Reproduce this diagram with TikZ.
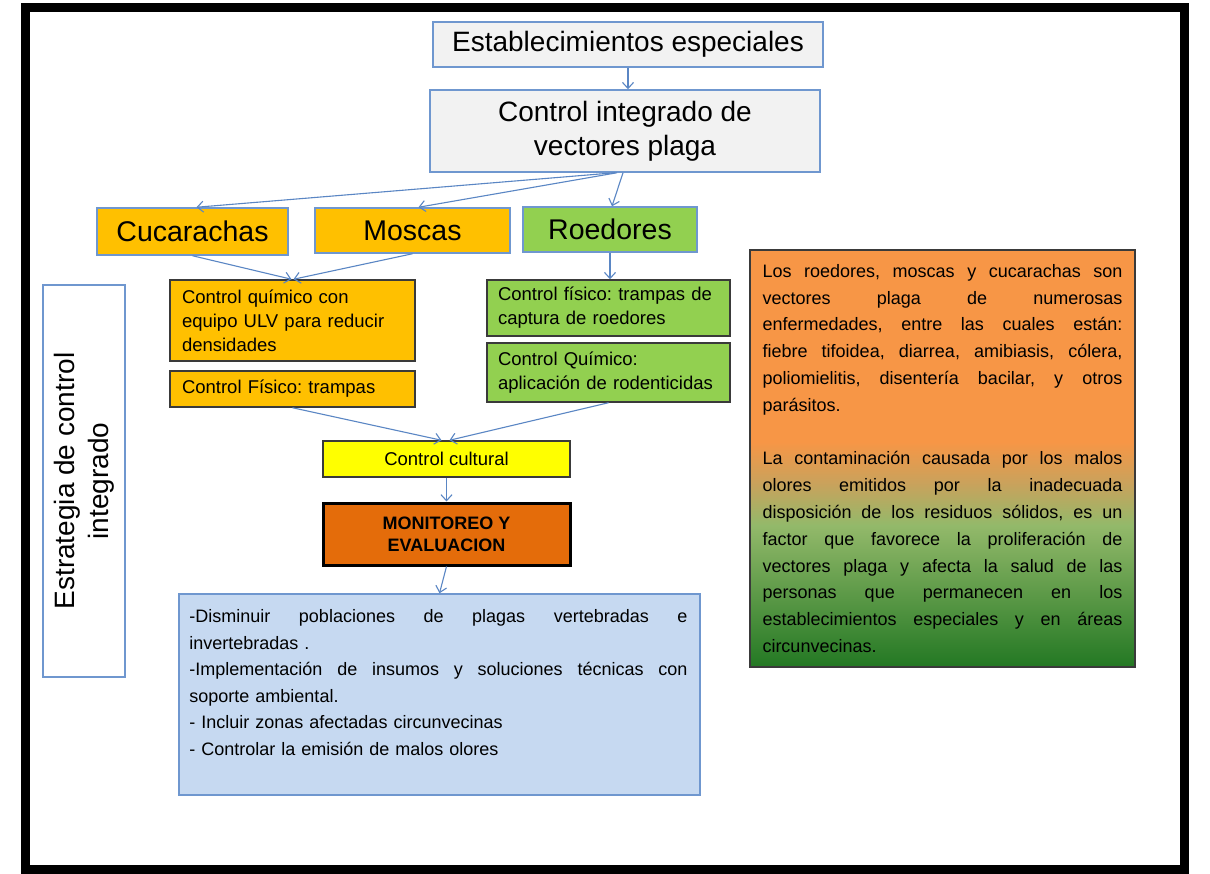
\documentclass[tikz,border=0pt]{standalone}
\usepackage{fontspec}
\setmainfont{Liberation Sans}
\frenchspacing
\usetikzlibrary{arrows.meta,calc}
\definecolor{bord}{HTML}{6F97CF}
\definecolor{arr}{HTML}{5A86C4}
\definecolor{lgray}{HTML}{F2F2F2}
\definecolor{ora}{HTML}{FFC000}
\definecolor{grn}{HTML}{92D050}
\definecolor{yel}{HTML}{FFFF00}
\definecolor{mono}{HTML}{E46C0A}
\definecolor{lblue}{HTML}{C6D9F1}
\definecolor{dbord}{HTML}{3A3A3A}
\definecolor{rora}{HTML}{F79646}
\definecolor{rbrown}{HTML}{C9A25C}
\definecolor{rgmid}{HTML}{93B96A}
\definecolor{rgdark}{HTML}{237823}
\pgfdeclareverticalshading{rboxshade}{100bp}{color(0bp)=(rgdark); color(25bp)=(rgdark); color(42bp)=(rgmid); color(47bp)=(rbrown); color(52bp)=(rora); color(75bp)=(rora); color(100bp)=(rora)}
\newcommand{\jr}[1]{\leavevmode\hbox to 360pt{\spaceskip=0.278em plus 1fil\relax #1}}
\newcommand{\jb}[1]{\leavevmode\hbox to 498pt{\spaceskip=0.278em plus 1fil\relax #1}}
\begin{document}
\begin{tikzpicture}[x=1pt,y=-1pt,
  topbox/.style={draw=bord, line width=1.5pt, fill=lgray, inner sep=0pt, align=center, font=\fontsize{28}{34}\selectfont},
  animal/.style={draw=bord, line width=1.5pt, inner sep=0pt, font=\fontsize{28.5}{34}\selectfont},
  ctrl/.style={draw=dbord, line width=1.5pt, inner sep=0pt, font=\fontsize{18.5}{24}\selectfont, align=left, text width=#1},
  conn/.style={draw=arr, line width=1.1pt, -{Straight Barb[length=6pt,width=11pt,line width=1.1pt]}},
]
\useasboundingbox (0,0) rectangle (1210,874);
\fill[white] (0,0) rectangle (1210,874);
\draw[line width=9pt] (25,8) rectangle (1184.5,869.5);

% top boxes
\node[topbox, minimum width=390pt, minimum height=45pt] (est) at (628,44.5) {Establecimientos especiales};
\node[topbox, minimum width=390pt, minimum height=82pt] (ci) at (625,131) {Control integrado de\\vectores plaga};

% animals
\node[animal, fill=ora, minimum width=191pt, minimum height=47pt] (cuc) at (192.5,231.5) {Cucarachas};
\node[animal, fill=ora, minimum width=195pt, minimum height=45pt] (mos) at (412.5,230.5) {Moscas};
\node[animal, fill=grn, minimum width=174pt, minimum height=45pt] (roe) at (610,229.5) {Roedores};

% control boxes
\node[ctrl=221pt, fill=ora, minimum width=245pt, minimum height=81pt] (cq) at (292.5,320.5) {Control químico con\\equipo ULV para reducir\\densidades};
\node[ctrl=221pt, fill=ora, minimum width=245pt, minimum height=36pt] (cf) at (292.5,389) {Control Físico: trampas};
\node[ctrl=221pt, fill=grn, minimum width=243pt, minimum height=56pt] (rf) at (608.5,308) {Control físico: trampas de\\captura de roedores};
\node[ctrl=221pt, fill=grn, minimum width=243pt, minimum height=59pt] (rq) at (608.5,372.5) {Control Químico:\\aplicación de rodenticidas};
\node[draw=dbord, line width=1.5pt, fill=yel, inner sep=0pt, minimum width=247pt, minimum height=36pt, font=\fontsize{18.5}{24}\selectfont] (cc) at (446.5,459) {Control cultural};
\node[draw=black, line width=3pt, fill=mono, inner sep=0pt, minimum width=247pt, minimum height=62pt, align=center, font=\fontsize{18}{22}\selectfont\bfseries] (mon) at (446.5,534) {MONITOREO Y\\EVALUACION};

% objectives box
\node[draw=bord, line width=1.5pt, fill=lblue, minimum width=521pt, minimum height=201pt, inner sep=0pt] (obj) at (439.5,694.5) {};
\node[anchor=north west, inner sep=0pt, text width=498pt, align=left, font=\fontsize{18}{26.6}\selectfont] (objtxt) at ($(obj.north west)+(11,16)$) {%
\jb{-Disminuir poblaciones de plagas vertebradas e}\\
invertebradas .\\
\jb{-Implementación de insumos y soluciones técnicas con}\\
soporte ambiental.\\
- Incluir zonas afectadas circunvecinas\\
- Controlar la emisión de malos olores};

% left vertical box
\node[draw=bord, line width=1.5pt, fill=white, rotate=90, minimum width=392pt, minimum height=82pt, inner sep=0pt, align=center, font=\fontsize{28}{34}\selectfont] (estr) at (84,481) {Estrategia de control\\integrado};

% right info box
\node[draw=dbord, line width=1.2pt, shading=rboxshade, minimum width=385pt, minimum height=417pt, inner sep=0pt, text width=360pt, align=left, font=\fontsize{18}{26.8}\selectfont] (info) at (942.5,458.5) {%
\jr{Los roedores, moscas y cucarachas son}\\
\jr{vectores plaga de numerosas}\\
\jr{enfermedades, entre las cuales están:}\\
\jr{fiebre tifoidea, diarrea, amibiasis, cólera,}\\
\jr{poliomielitis, disentería bacilar, y otros}\\
parásitos.\\
\mbox{}\\
\jr{La contaminación causada por los malos}\\
\jr{olores emitidos por la inadecuada}\\
\jr{disposición de los residuos sólidos, es un}\\
\jr{factor que favorece la proliferación de}\\
\jr{vectores plaga y afecta la salud de las}\\
\jr{personas que permanecen en los}\\
\jr{establecimientos especiales y en áreas}\\
circunvecinas.};

% connectors
\draw[conn] (est.south) -- (est.south |- ci.north);
\draw[conn] ([xshift=-10pt]ci.south) -- ([xshift=4pt]cuc.north);
\draw[conn] ([xshift=-8pt]ci.south) -- ([xshift=6pt]mos.north);
\draw[conn] ([xshift=-2pt]ci.south) -- ([xshift=2pt]roe.north);
\draw[conn] (cuc.south) -- ([xshift=-1pt]cq.north);
\draw[conn] (mos.south) -- ([xshift=1pt]cq.north);
\draw[conn] (roe.south) -- (roe.south |- rf.north);
\draw[conn] (cf.south) -- ([xshift=-5pt]cc.north);
\draw[conn] (rq.south) -- ([xshift=3pt]cc.north);
\draw[conn] (cc.south) -- (mon.north);
\draw[conn] (mon.south) -- (obj.north);
\end{tikzpicture}
\end{document}
